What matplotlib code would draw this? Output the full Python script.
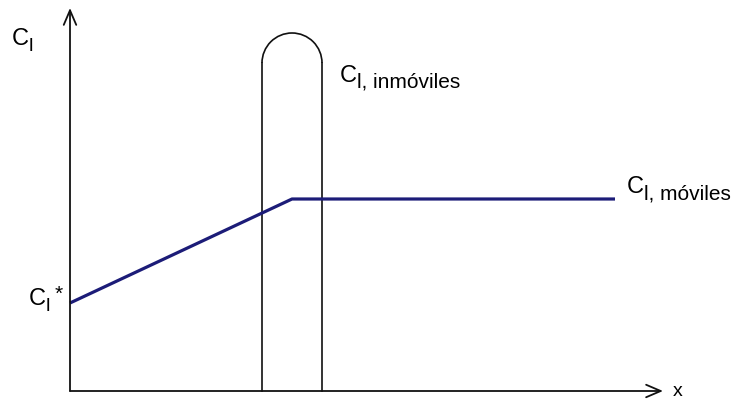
import matplotlib
matplotlib.use("Agg")
import matplotlib.pyplot as plt
from matplotlib.patches import Arc

plt.rcParams['font.family'] = 'Liberation Sans'

# concentration profile of the mobile phase (distance, concentration)
x_profile = [0, 222, 545]
c_mobile = [88, 192, 192]

# immobile zone drawn as a closed tube standing on the x axis
tube_left = 192
tube_right = 252
tube_wall_top = 328

x_axis_end = 593
y_axis_end = 383

navy = '#1c1c78'

fig = plt.figure(figsize=(7.31, 4.03), dpi=100)
ax = fig.add_axes([0, 0, 1, 1])
ax.set_xlim(-70, 661)
ax.set_ylim(-12, 391)
ax.axis('off')

arrow = dict(arrowstyle='->,head_length=1.05,head_width=0.45', lw=1.3, color='#111111',
             shrinkA=0, shrinkB=0)
ax.annotate('', xy=(0, y_axis_end), xytext=(0, 0), arrowprops=arrow)
ax.annotate('', xy=(x_axis_end, 0), xytext=(0, 0), arrowprops=arrow)

# tube walls and rounded top
ax.plot([tube_left, tube_left], [0, tube_wall_top], color='#111111', lw=1.2)
ax.plot([tube_right, tube_right], [0, tube_wall_top], color='#111111', lw=1.2)
width = tube_right - tube_left
ax.add_patch(Arc(((tube_left + tube_right) / 2, tube_wall_top), width, width,
                 theta1=0, theta2=180, color='#111111', lw=1.2))

ax.plot(x_profile, c_mobile, color=navy, lw=2.3, solid_capstyle='butt')


def label(x, y, sub, sub_size=15):
    # "C" with a lowered subscript written as a separate, larger-than-usual text
    ax.text(x, y, 'C', fontsize=17, va='baseline', ha='left')
    ax.text(x + 17, y - 6, sub, fontsize=sub_size, va='baseline', ha='left')


label(-58, 346, 'l', sub_size=14)
label(-41, 86, 'l', sub_size=14)
ax.text(-11, 97, '*', fontsize=15, va='center', ha='center')
label(270, 309, 'l, inmóviles')
label(557, 198, 'l, móviles')
ax.text(603, -1, 'x', fontsize=14, va='center', ha='left')

fig.savefig('out.png', dpi=100)
